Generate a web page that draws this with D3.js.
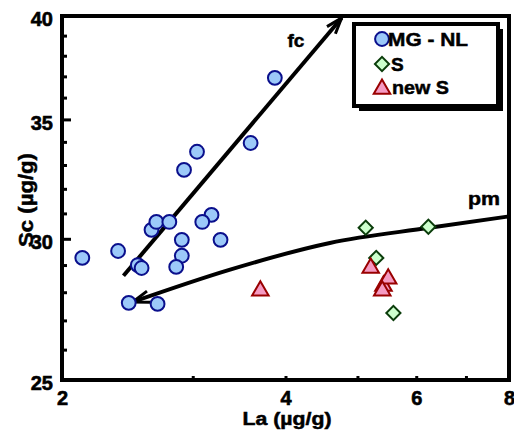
<!DOCTYPE html>
<html>
<head>
<meta charset="utf-8">
<script src="https://cdn.jsdelivr.net/npm/d3@7"></script>
<style>
  html, body { margin: 0; padding: 0; background: #fff; }
  svg { display: block; }
  svg text { font-family: "Liberation Sans", Arial, sans-serif; font-weight: bold; fill: #000; stroke: #000; stroke-width: 0.5px; }
</style>
</head>
<body>
<div id="chart"></div>
<script>
// ---- data (La, Sc in µg/g) ----
const mgLa = [2.13, 2.38, 2.53, 2.56, 2.46, 2.69, 2.64, 2.68, 2.79, 2.90, 2.90, 2.85, 2.92, 3.04, 3.18, 3.09, 3.27, 3.59, 3.87];
const mgSc = [29.27, 29.53, 29.0, 28.89, 27.62, 27.58, 30.35, 30.66, 30.66, 29.96, 29.35, 28.93, 32.79, 33.57, 30.94, 30.66, 29.96, 33.95, 36.93];

const sLa = [5.13, 6.23, 5.30, 5.59];
const sSc = [30.43, 30.47, 29.27, 27.26];

const newSLa = [3.70, 5.21, 5.42, 5.50, 5.40];
const newSSc = [28.05, 28.89, 28.23, 28.49, 28.05];

// trend arrows (fc = fractional crystallisation, pm = partial melting)
const fcLa = [2.42, 4.76];
const fcSc = [28.6, 39.9];
const pmLa = [2.49, 3.36, 4.59, 6.25, 8.0];
const pmSc = [27.65, 28.82, 29.84, 30.43, 30.88];

const xMajor = [2, 4, 6, 8];
const xMinor = [3, 5, 7];
const yMajor = [25, 30, 35, 40];
const yMinor = [26, 27, 28, 29, 31, 32, 33, 34, 36, 37, 38, 39];

const legendNames = ['MG - NL', 'S', 'new S'];

(function () {
  const W = 514, H = 435;
  const FONT = '"Liberation Sans", Arial, sans-serif';
  const COLORS = {
    mgFill: '#9cc9f9', mgStroke: '#0a0f8c',
    sFill: '#ccffcc', sStroke: '#0b3d0b',
    nFill: '#f59ac2', nStroke: '#990000',
  };

  const svg = d3.select('#chart').append('svg').attr('width', W).attr('height', H);

  const x = d3.scaleLog().domain([2, 8]).range([62, 509]);
  const y = d3.scaleLog().domain([25, 40]).range([380, 16]);

  svg.append('clipPath').attr('id', 'plot-clip')
    .append('rect').attr('x', 62).attr('y', 16).attr('width', 447).attr('height', 364);

  // ---- axes ----
  const styleAxis = (axis) => {
    axis.attr('font-family', null).attr('font-size', null);
    axis.select('.domain').remove();
    axis.selectAll('line').attr('stroke', '#000').attr('stroke-width', 3);
    axis.selectAll('text').attr('fill', '#000')
      .style('font-family', FONT).style('font-weight', 'bold').style('font-size', '20px')
      .style('stroke', '#000').style('stroke-width', '0.6px');
  };

  const yMinorG = svg.append('g').attr('transform', 'translate(62,0)')
    .call(d3.axisLeft(y).tickValues(yMinor).tickSize(-5).tickFormat(''));
  styleAxis(yMinorG);
  const yMajorG = svg.append('g').attr('transform', 'translate(62,0)')
    .call(d3.axisLeft(y).tickValues(yMajor).tickSize(-9).tickPadding(9).tickFormat(d3.format('d')));
  styleAxis(yMajorG);
  yMajorG.selectAll('text').attr('dy', '0.48em');

  const xMinorG = svg.append('g').attr('transform', 'translate(0,380)')
    .call(d3.axisBottom(x).tickValues(xMinor).tickSize(-4).tickFormat(''));
  styleAxis(xMinorG);
  const xMajorG = svg.append('g').attr('transform', 'translate(0,380)')
    .call(d3.axisBottom(x).tickValues(xMajor).tickSize(-4).tickPadding(11).tickFormat(d3.format('d')));
  styleAxis(xMajorG);

  // frame
  svg.append('rect').attr('x', 62).attr('y', 16).attr('width', 447).attr('height', 364)
    .attr('fill', 'none').attr('stroke', '#000').attr('stroke-width', 4);

  // axis titles
  svg.append('text').attr('x', 287).attr('y', 425).attr('text-anchor', 'middle')
    .style('font-size', '18px').attr('textLength', 89).attr('lengthAdjust', 'spacingAndGlyphs')
    .text('La (µg/g)');
  svg.append('text').attr('transform', 'translate(33,247) rotate(-90)').attr('text-anchor', 'start')
    .style('font-size', '20px').attr('textLength', 94).attr('lengthAdjust', 'spacingAndGlyphs')
    .text('Sc (µg/g)');

  // ---- trend arrows ----
  const plot = svg.append('g').attr('clip-path', 'url(#plot-clip)');
  const line = d3.line().x(d => x(d[0])).y(d => y(d[1]));

  function arrowHead(p, q, len, ang) {
    // barbs at tip p, opening back toward q
    const a = Math.atan2(q[1] - p[1], q[0] - p[0]);
    const b1 = [p[0] + len * Math.cos(a + ang), p[1] + len * Math.sin(a + ang)];
    const b2 = [p[0] + len * Math.cos(a - ang), p[1] + len * Math.sin(a - ang)];
    return `M${b1[0]},${b1[1]}L${p[0]},${p[1]}L${b2[0]},${b2[1]}`;
  }

  const fcPts = fcLa.map((d, i) => [d, fcSc[i]]);
  plot.append('path').datum(fcPts).attr('d', line)
    .attr('fill', 'none').attr('stroke', '#000').attr('stroke-width', 4);
  const fcTip = [x(fcLa[1]), y(fcSc[1])], fcBack = [x(fcLa[0]), y(fcSc[0])];
  plot.append('path').attr('d', arrowHead(fcTip, fcBack, 17, 0.33))
    .attr('fill', 'none').attr('stroke', '#000').attr('stroke-width', 3);

  const pmPts = pmLa.map((d, i) => [d, pmSc[i]]);
  plot.append('path').datum(pmPts).attr('d', line.curve(d3.curveMonotoneX))
    .attr('fill', 'none').attr('stroke', '#000').attr('stroke-width', 4);
  const pmTip = [x(pmLa[0]), y(pmSc[0])], pmBack = [x(pmLa[1]), y(pmSc[1])];
  plot.append('path').attr('d', arrowHead(pmTip, pmBack, 18, 0.33))
    .attr('fill', 'none').attr('stroke', '#000').attr('stroke-width', 3);

  svg.append('text').attr('x', 296).attr('y', 47).attr('text-anchor', 'middle')
    .style('font-size', '19px').text('fc');
  svg.append('text').attr('x', 484).attr('y', 205).attr('text-anchor', 'middle')
    .style('font-size', '19px').attr('textLength', 32).attr('lengthAdjust', 'spacingAndGlyphs').text('pm');

  // ---- markers ----
  const circleSym = d3.symbol().type(d3.symbolCircle).size(150);
  const diamondSym = d3.symbol().type(d3.symbolSquare).size(100);
  const triSym = d3.symbol().type(d3.symbolTriangle).size(118);

  svg.append('g').selectAll('path').data(mgLa.map((d, i) => [d, mgSc[i]])).join('path')
    .attr('d', circleSym).attr('transform', d => `translate(${x(d[0])},${y(d[1])})`)
    .attr('fill', COLORS.mgFill).attr('stroke', COLORS.mgStroke).attr('stroke-width', 2);

  svg.append('g').selectAll('path').data(sLa.map((d, i) => [d, sSc[i]])).join('path')
    .attr('d', diamondSym).attr('transform', d => `translate(${x(d[0])},${y(d[1])}) rotate(45)`)
    .attr('fill', COLORS.sFill).attr('stroke', COLORS.sStroke).attr('stroke-width', 2);

  svg.append('g').selectAll('path').data(newSLa.map((d, i) => [d, newSSc[i]])).join('path')
    .attr('d', triSym).attr('transform', d => `translate(${x(d[0])},${y(d[1])})`)
    .attr('fill', COLORS.nFill).attr('stroke', COLORS.nStroke).attr('stroke-width', 2);

  // ---- legend ----
  const lg = svg.append('g');
  lg.append('rect').attr('x', 359).attr('y', 29).attr('width', 144).attr('height', 82).attr('fill', '#000');
  lg.append('rect').attr('x', 354).attr('y', 24).attr('width', 144).attr('height', 82)
    .attr('fill', '#fff').attr('stroke', '#000').attr('stroke-width', 4);

  const legendSyms = [
    { sym: circleSym, rot: 0, fill: COLORS.mgFill, stroke: COLORS.mgStroke, my: 39, ty: 46, tx: 388, tl: 80 },
    { sym: diamondSym, rot: 45, fill: COLORS.sFill, stroke: COLORS.sStroke, my: 64, ty: 71, tx: 391, tl: null },
    { sym: triSym, rot: 0, fill: COLORS.nFill, stroke: COLORS.nStroke, my: 89, ty: 94, tx: 392, tl: 57 },
  ];
  legendNames.forEach((name, i) => {
    const s = legendSyms[i];
    lg.append('path').attr('d', s.sym).attr('transform', `translate(382,${s.my}) rotate(${s.rot})`)
      .attr('fill', s.fill).attr('stroke', s.stroke).attr('stroke-width', 2);
    const t = lg.append('text').attr('x', s.tx).attr('y', s.ty).style('font-size', '19px').text(name);
    if (s.tl) t.attr('textLength', s.tl).attr('lengthAdjust', 'spacingAndGlyphs');
  });
})();
</script>
</body>
</html>
